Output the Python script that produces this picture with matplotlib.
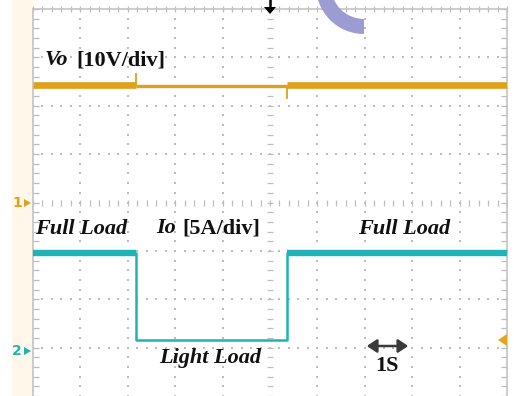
import numpy as np
import matplotlib
matplotlib.use("Agg")
import matplotlib.pyplot as plt
from matplotlib.patches import Wedge, Rectangle, FancyArrowPatch, Polygon
from matplotlib.transforms import IdentityTransform

# ---------------- data ----------------
time_div_s = 1.0                 # 1 s / div
vo_scale = 10.0                  # V / div
io_scale = 5.0                   # A / div
ch1_ground_div = 4.0             # marker "1"
ch2_ground_div = 1.0             # marker "2"

t_step_down = 2.17               # s
t_step_up = 5.36                 # s

io_time = [0.0, t_step_down, t_step_down, t_step_up, t_step_up, 10.0]
io_amp = [9.8, 9.8, 0.8, 0.8, 9.8, 9.8]

vo_seg_time = [[0.0, t_step_down], [t_step_down, t_step_up], [t_step_up, 10.0]]
vo_seg_volt = [[24.2, 24.2], [24.0, 24.0], [24.2, 24.2]]
vo_seg_noisy = [True, False, True]
vo_spike_time = [t_step_down, t_step_up]
vo_spike_volt = [26.6, 21.6]

# ---------------- figure ----------------
W, H = 514, 396
fig = plt.figure(figsize=(W / 100, H / 100), dpi=100)
fig.patch.set_facecolor("white")

def px(x0, y0, w, h):
    return [x0 / W, 1 - (y0 + h) / H, w / W, h / H]

# beige left strip
fig.add_artist(Rectangle((12 / W, 0), 21 / W, 1, transform=fig.transFigure,
                         facecolor="#fff7ea", edgecolor="none", zorder=0))

L, T, R, B = 33, 9, 507, 396
ax = fig.add_axes(px(L, T, R - L, B - T))
ax.set_xlim(0, 10)
ax.set_ylim(0, 8)
ax.set_facecolor("white")
ax.set_xticks([]); ax.set_yticks([])
ax.spines["bottom"].set_visible(False)
for s in ["left", "top", "right"]:
    ax.spines[s].set_color("#c4c4c4")
    ax.spines[s].set_linewidth(1.2)

grid_c = "#bdbdbd"
minor = np.arange(0, 10.001, 0.2)
minor_y = np.arange(0, 8.001, 0.2)
for yy in range(1, 8):
    if yy == 4:
        continue
    ax.scatter(minor, np.full_like(minor, yy), s=1.6, marker="s", color=grid_c, lw=0, zorder=1)
for xx in range(1, 10):
    if xx == 5:
        continue
    ax.scatter(np.full_like(minor_y, xx), minor_y, s=1.6, marker="s", color=grid_c, lw=0, zorder=1)
ax.scatter(minor, np.full_like(minor, 4), s=14, marker="|", color=grid_c, lw=0.9, zorder=1)
ax.scatter(np.full_like(minor_y, 5), minor_y, s=14, marker="_", color=grid_c, lw=0.9, zorder=1)
ax.scatter(minor, np.full_like(minor, 8), s=14, marker="|", color="#bdbdbd", lw=0.9, zorder=1, clip_on=False)
ax.scatter(np.full_like(minor_y, 0.06), minor_y, s=14, marker="_", color="#bdbdbd", lw=0.9, zorder=1)
ax.scatter(np.full_like(minor_y, 9.94), minor_y, s=14, marker="_", color="#bdbdbd", lw=0.9, zorder=1)

vo_c = "#e1a01c"
io_c = "#1fb3b6"

def vo_y(v):
    return ch1_ground_div + np.asarray(v) / vo_scale

def io_y(a):
    return ch2_ground_div + np.asarray(a) / io_scale

for tt, vv, noisy in zip(vo_seg_time, vo_seg_volt, vo_seg_noisy):
    ax.plot(np.asarray(tt) / time_div_s, vo_y(vv), color=vo_c,
            lw=4.8 if noisy else 2.4, solid_capstyle="butt", zorder=3)
for ts, vs in zip(vo_spike_time, vo_spike_volt):
    ax.plot([ts / time_div_s, ts / time_div_s], [vo_y(24.1), vo_y(vs)], color=vo_c, lw=1.3, zorder=3)

it = np.asarray(io_time) / time_div_s
iy = io_y(io_amp)
ax.plot(it, iy, color=io_c, lw=1.8, zorder=3)
ax.plot(it[:2], iy[:2], color=io_c, lw=4.6, solid_capstyle="butt", zorder=3)
ax.plot(it[4:], iy[4:], color=io_c, lw=4.6, solid_capstyle="butt", zorder=3)

# ---------------- labels ----------------
serif = ["Liberation Serif", "DejaVu Serif"]
fs = 16

def ftxt(x, y, s, style="normal", **kw):
    fig.text(x / W, 1 - y / H, s, family=serif, weight="bold", style=style,
             fontsize=fs, va="center", ha="left", color="#111111", **kw)

ftxt(45, 60, "Vo", style="italic")
ftxt(76, 60, "[10V/div]")
ftxt(35, 229, "Full Load", style="italic")
ftxt(156, 228, "Io", style="italic")
ftxt(182, 228, "[5A/div]")
ftxt(358, 229, "Full Load", style="italic")
ftxt(159, 358, "Light Load", style="italic")
ftxt(375, 366, "1S")

fig.add_artist(FancyArrowPatch((364 / W, 1 - 346 / H), (411 / W, 1 - 346 / H),
                               transform=fig.transFigure,
                               arrowstyle="<|-|>,head_length=6,head_width=4",
                               color="#3a3a3a", lw=1.8, mutation_scale=1))

# channel markers: number + small right-pointing triangle (pixel coords)
for yy, col, lab in [(203, vo_c, "1"), (351, io_c, "2")]:
    fig.text(12 / W, 1 - yy / H, lab, color=col, fontsize=10, va="center", ha="left",
             family="DejaVu Sans", weight="bold")
    fig.add_artist(Polygon([[24, H - yy + 4], [24, H - yy - 4], [31, H - yy]], closed=True,
                           transform=IdentityTransform(), facecolor=col, edgecolor="none"))

# trigger arrow at the top (pixel coords)
fig.add_artist(plt.Line2D([270, 270], [H, H - 8], transform=IdentityTransform(),
                          color="black", lw=1.8))
fig.add_artist(Polygon([[264, H - 7], [276, H - 7], [270, H - 14]], closed=True,
                       transform=IdentityTransform(), facecolor="black", edgecolor="none"))
# right-side level marker
fig.add_artist(Polygon([[507, H - 334], [507, H - 346], [498, H - 340]], closed=True,
                       transform=IdentityTransform(), facecolor="#e8a21c", edgecolor="none"))

# purple watermark arc (pixel coordinates)
fig.add_artist(Wedge((364, H + 14), 48, 180, 270, width=15,
                     transform=IdentityTransform(), facecolor="#9c9bd2",
                     edgecolor="none", zorder=10))

fig.savefig("out.png", dpi=100)
